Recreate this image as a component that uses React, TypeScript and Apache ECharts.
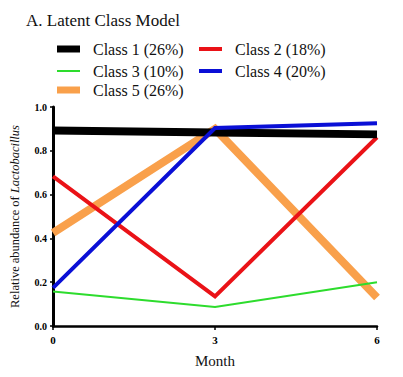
import React, { useEffect, useRef } from "react";
import * as echarts from "echarts";

const months = [0, 3, 6];
const class1 = [0.893, 0.884, 0.875];
const class2 = [0.683, 0.135, 0.862];
const class3 = [0.158, 0.087, 0.2];
const class4 = [0.174, 0.904, 0.926];
const class5 = [0.425, 0.9, 0.13];
const seriesNames = ["Class 1 (26%)", "Class 2 (18%)", "Class 3 (10%)", "Class 4 (20%)", "Class 5 (26%)"];
const yTicks = [0, 0.2, 0.4, 0.6, 0.8, 1.0];
const titleText = "A. Latent Class Model";

const SERIF = "Liberation Serif";

export default function App() {
  const ref = useRef<HTMLDivElement>(null);
  useEffect(() => {
    if (!ref.current) return;
    const chart = echarts.init(ref.current, null, { renderer: "svg" });
    const colors = ["#000000", "#ea1217", "#2ddc2d", "#0a0fd6", "#f9a04b"];
    const widths = [8, 4, 2, 4, 8];
    const iconH = [7, 4, 2, 4, 7];
    const datas = [class1, class2, class3, class4, class5];
    const mk = (i: number) => ({
      name: seriesNames[i],
      type: "line",
      data: months.map((m, k) => [m, datas[i][k]]),
      showSymbol: false,
      symbol: "none",
      itemStyle: { color: colors[i] },
      lineStyle: { color: colors[i], width: widths[i], cap: "butt", join: "miter" },
      z: 2,
    });
    const order = [4, 2, 1, 0, 3];
    const legendPos = [
      { x: 57, y: 49 },
      { x: 199, y: 49 },
      { x: 57, y: 71 },
      { x: 199, y: 71 },
      { x: 57, y: 90 },
    ];
    const legendGraphics: any[] = [];
    seriesNames.forEach((n, i) => {
      const p = legendPos[i];
      legendGraphics.push({
        type: "rect",
        shape: { x: p.x, y: p.y - iconH[i] / 2, width: 23, height: iconH[i] },
        style: { fill: colors[i] },
        silent: true,
      });
      legendGraphics.push({
        type: "text",
        x: p.x + 36,
        y: p.y,
        silent: true,
        style: {
          text: n,
          fontFamily: SERIF,
          fontSize: 16,
          fill: "#111",
          verticalAlign: "middle",
          align: "left",
        },
      });
    });
    chart.setOption({
      animation: false,
      graphic: [
        {
          type: "text",
          x: 26,
          y: 20,
          silent: true,
          style: {
            text: titleText,
            fontFamily: SERIF,
            fontSize: 17,
            fill: "#111",
            verticalAlign: "middle",
            align: "left",
          },
        },
        ...legendGraphics,
      ],
      grid: { left: 48, right: 26, top: 107, bottom: 51, containLabel: false },
      xAxis: {
        type: "value",
        min: 0,
        max: 6,
        interval: 3,
        name: "Month",
        nameLocation: "middle",
        nameGap: 27,
        nameTextStyle: { fontFamily: SERIF, fontSize: 15, color: "#111" },
        axisLine: { lineStyle: { color: "#000", width: 2.5 } },
        axisTick: { show: true, length: 4, lineStyle: { width: 1.5, color: "#000" } },
        axisLabel: { fontFamily: SERIF, fontWeight: "bold", fontSize: 11, color: "#000", margin: 8 },
        splitLine: { show: false },
      },
      yAxis: {
        type: "value",
        min: 0,
        max: 1,
        interval: 0.2,
        name: "{n|Relative abundance of }{i|Lactobacillus}",
        nameLocation: "middle",
        nameGap: 32,
        nameTextStyle: {
          fontFamily: SERIF,
          fontSize: 12.5,
          color: "#111",
          rich: {
            n: { fontFamily: SERIF, fontSize: 12.5, color: "#111" },
            i: { fontFamily: SERIF, fontSize: 12.5, color: "#111", fontStyle: "italic" },
          },
        },
        axisLine: { show: true, lineStyle: { color: "#000", width: 3 } },
        axisTick: { show: true, length: 3, lineStyle: { width: 1.5, color: "#000" } },
        axisLabel: {
          fontFamily: SERIF,
          fontWeight: "bold",
          fontSize: 10,
          color: "#000",
          margin: 6,
          formatter: (v: number) => (yTicks.some((t) => Math.abs(t - v) < 1e-6) ? v.toFixed(1) : ""),
        },
        splitLine: { show: false },
      },
      series: order.map(mk),
    });
    return () => chart.dispose();
  }, []);
  return <div ref={ref} style={{ width: 403, height: 377, margin: -8 }} />;
}
